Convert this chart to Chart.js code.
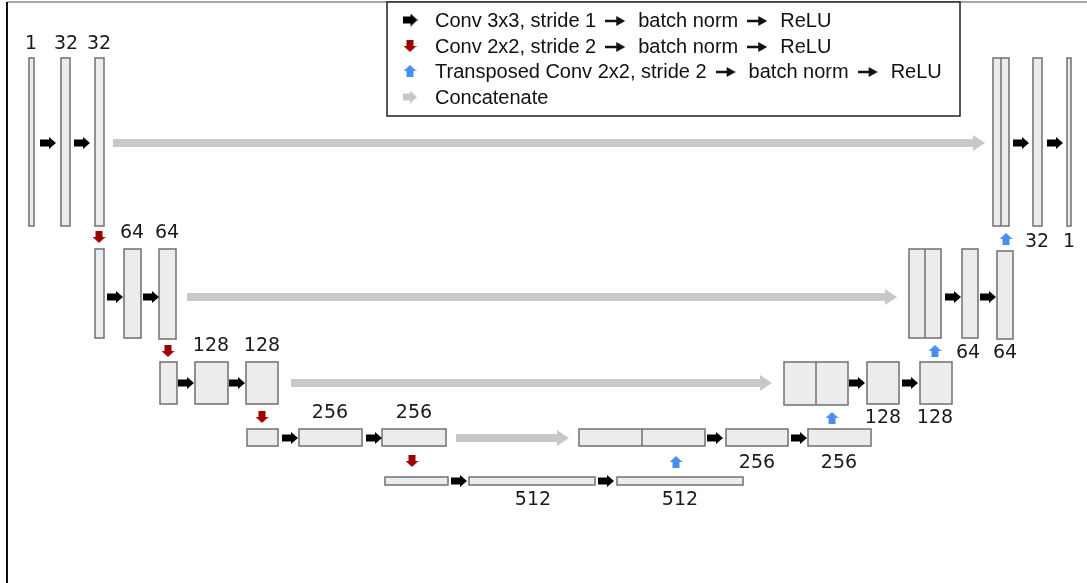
<!DOCTYPE html>
<html>
<head>
<meta charset="utf-8">
<script src="https://cdn.jsdelivr.net/npm/chart.js@4.4.1/dist/chart.umd.min.js"></script>
<style>
  html, body { margin: 0; padding: 0; background: #fff; }
  #wrap { width: 1087px; height: 583px; }
</style>
</head>
<body>
<div id="wrap"><canvas id="unet" width="1087" height="583"></canvas></div>
<script>
// Feature maps: [x0, x1, y0, y1] in diagram units
const featureMaps = [
  [29, 34, 58, 226], [61, 70, 58, 226], [95, 104, 58, 226],
  [1033, 1042, 58, 226], [1067, 1071, 58, 226],
  [95, 104, 249, 338], [124, 141, 249, 338], [159, 176, 249, 339],
  [962, 978, 249, 338], [997, 1013, 251, 339],
  [160, 177, 362, 404], [195, 228, 362, 404], [246, 278, 362, 404],
  [867, 899, 362, 404], [920, 952, 362, 404],
  [247, 278, 429, 446], [299, 362, 429, 446], [382, 446, 429, 446],
  [726, 788, 429, 446], [808, 871, 429, 446],
  [385, 448, 477, 485], [469, 595, 477, 485], [617, 743, 477, 485]
];
// Concatenated maps: [x0, x1, y0, y1, divider]
const concatMaps = [
  [993, 1009, 58, 226, 1001],
  [909, 941, 249, 338, 925],
  [784, 848, 362, 405, 816],
  [579, 705, 429, 446, 642]
];
// Channel counts
const channelText = ['1', '32', '32', '64', '64', '128', '128', '256', '256', '512', '512',
  '256', '256', '128', '128', '64', '64', '32', '1'];
const channelX = [31, 66, 99, 132, 167, 211, 262, 330, 414, 533, 680,
  757, 839, 883, 935, 968, 1005, 1037, 1069];
const channelY = [44, 44, 44, 233, 233, 346, 346, 413, 413, 500, 500,
  463, 463, 418, 418, 353, 353, 242, 242];
// Arrow positions
const convArrows = [
  [48, 143], [82, 143], [1021, 143], [1055, 143],
  [115, 297], [151, 297], [953, 297], [988, 297],
  [186, 383], [237, 383], [857, 383], [910, 383],
  [290, 438], [374, 438], [715, 438], [799, 438],
  [459, 481], [606, 481]
];
const downArrows = [[99, 237], [168, 351], [262, 417], [412, 461]];
const upArrows = [[1006, 239], [935, 351], [832, 418], [676, 462]];
// Concatenate arrows: [xStart, xEnd, y]
const concatArrows = [[113, 985, 143], [187, 897, 297], [291, 772, 383], [456, 569, 438]];
// Legend (each entry split at its arrows)
const legendText = [
  ['Conv 3x3, stride 1', 'batch norm', 'ReLU'],
  ['Conv 2x2, stride 2', 'batch norm', 'ReLU'],
  ['Transposed Conv 2x2, stride 2', 'batch norm', 'ReLU'],
  ['Concatenate']
];
const legendY = [20, 46, 71, 97];

const BLACK = '#000000', RED = '#9c0000', BLUE = '#4a8fef', GREY = '#c8c8c8';

// Build a small arrow image used as a point style
function arrowImage(dir, color, len, shaft, head, headLen) {
  const c = document.createElement('canvas');
  const w = (dir === 'right') ? len : head * 2;
  const h = (dir === 'right') ? head * 2 : len;
  c.width = w; c.height = h;
  const g = c.getContext('2d');
  g.fillStyle = color;
  g.translate(w / 2, h / 2);
  if (dir === 'down') g.rotate(Math.PI / 2);
  if (dir === 'up') g.rotate(-Math.PI / 2);
  const L = len / 2;
  g.beginPath();
  g.moveTo(-L, -shaft);
  g.lineTo(L - headLen, -shaft);
  g.lineTo(L - headLen, -head);
  g.lineTo(L, 0);
  g.lineTo(L - headLen, head);
  g.lineTo(L - headLen, shaft);
  g.lineTo(-L, shaft);
  g.closePath();
  g.fill();
  return c;
}
function headImage(color, len, head) {
  const c = document.createElement('canvas');
  c.width = len; c.height = head * 2;
  const g = c.getContext('2d');
  g.fillStyle = color;
  g.beginPath();
  g.moveTo(0, 0); g.lineTo(len, head); g.lineTo(0, head * 2);
  g.closePath(); g.fill();
  return c;
}

const convImg = arrowImage('right', BLACK, 16, 3.5, 6, 7);
const downImg = arrowImage('down', RED, 12, 3.5, 6.5, 6);
const upImg = arrowImage('up', BLUE, 12, 3.5, 6.5, 6);
const headImg = headImage(GREY, 12, 8);
const textArrow = arrowImage('right', '#111', 20, 1.2, 5, 9);

const pts = arr => arr.map(p => ({ x: p[0], y: p[1] }));

const datasets = [];
concatArrows.forEach(a => {
  datasets.push({
    type: 'line',
    data: [{ x: a[0], y: a[2] }, { x: a[1] - 11, y: a[2] }],
    borderColor: GREY, borderWidth: 8, borderCapStyle: 'butt',
    pointRadius: 0, fill: false
  });
});
datasets.push({ type: 'scatter', data: concatArrows.map(a => ({ x: a[1] - 6, y: a[2] })), pointStyle: headImg });
datasets.push({ type: 'scatter', data: pts(convArrows), pointStyle: convImg });
datasets.push({ type: 'scatter', data: pts(downArrows), pointStyle: downImg });
datasets.push({ type: 'scatter', data: pts(upArrows), pointStyle: upImg });

// Boxes, labels, legend and frame drawn with the chart's scales
const diagramPlugin = {
  id: 'diagram',
  beforeDatasetsDraw(chart) {
    const { ctx, scales: { x, y } } = chart;
    ctx.save();
    ctx.fillStyle = '#ffffff';
    ctx.fillRect(0, 0, chart.width, chart.height);
    // frame
    ctx.strokeStyle = '#8a8a8a';
    ctx.lineWidth = 1.5;
    ctx.beginPath();
    ctx.moveTo(x.getPixelForValue(7), y.getPixelForValue(2));
    ctx.lineTo(x.getPixelForValue(1087), y.getPixelForValue(2));
    ctx.stroke();
    ctx.strokeStyle = '#111';
    ctx.lineWidth = 2;
    ctx.beginPath();
    ctx.moveTo(x.getPixelForValue(7), y.getPixelForValue(2));
    ctx.lineTo(x.getPixelForValue(7), y.getPixelForValue(583));
    ctx.stroke();

    const box = (b) => {
      const px0 = x.getPixelForValue(b[0]), px1 = x.getPixelForValue(b[1]);
      const py0 = y.getPixelForValue(b[2]), py1 = y.getPixelForValue(b[3]);
      ctx.fillStyle = '#ececec';
      ctx.fillRect(px0, py0, px1 - px0, py1 - py0);
      ctx.strokeStyle = '#707070';
      ctx.lineWidth = 1.5;
      ctx.strokeRect(px0, py0, px1 - px0, py1 - py0);
    };
    featureMaps.forEach(box);
    concatMaps.forEach(b => {
      box(b);
      const dx = x.getPixelForValue(b[4]);
      ctx.beginPath();
      ctx.moveTo(dx, y.getPixelForValue(b[2]));
      ctx.lineTo(dx, y.getPixelForValue(b[3]));
      ctx.stroke();
    });

    // channel labels
    ctx.fillStyle = '#1a1a1a';
    ctx.font = '19px "DejaVu Sans"';
    ctx.textAlign = 'center';
    ctx.textBaseline = 'middle';
    channelText.forEach((t, i) => {
      ctx.fillText(t, x.getPixelForValue(channelX[i]), y.getPixelForValue(channelY[i]));
    });

    // legend box
    const lx0 = x.getPixelForValue(387), lx1 = x.getPixelForValue(960);
    const ly0 = y.getPixelForValue(2), ly1 = y.getPixelForValue(116);
    ctx.fillStyle = '#fff';
    ctx.fillRect(lx0, ly0, lx1 - lx0, ly1 - ly0);
    ctx.strokeStyle = '#222';
    ctx.lineWidth = 1.5;
    ctx.strokeRect(lx0, ly0, lx1 - lx0, ly1 - ly0);
    const icons = [arrowImage('right', BLACK, 15, 3.5, 6.5, 7), downImg, upImg,
      arrowImage('right', GREY, 14, 3.5, 6.5, 7)];
    ctx.font = '20px "Liberation Sans"';
    ctx.textAlign = 'left';
    ctx.fillStyle = '#111';
    legendText.forEach((parts, i) => {
      const cy = y.getPixelForValue(legendY[i]);
      const img = icons[i];
      ctx.drawImage(img, x.getPixelForValue(410) - img.width / 2, cy - img.height / 2);
      let tx = x.getPixelForValue(435);
      parts.forEach((p, j) => {
        ctx.fillText(p, tx, cy + 1);
        tx += ctx.measureText(p).width;
        if (j < parts.length - 1) {
          tx += 9;
          ctx.drawImage(textArrow, tx, cy - textArrow.height / 2 + 1);
          tx += textArrow.width + 13;
        }
      });
    });
    ctx.restore();
  }
};

new Chart(document.getElementById('unet'), {
  type: 'scatter',
  data: { datasets },
  options: {
    responsive: false,
    animation: false,
    devicePixelRatio: 1,
    layout: { padding: 0, autoPadding: false },
    plugins: { legend: { display: false }, tooltip: { enabled: false } },
    scales: {
      x: { type: 'linear', min: 0, max: 1087, display: false },
      y: { type: 'linear', min: 0, max: 583, reverse: true, display: false }
    }
  },
  plugins: [diagramPlugin]
});
</script>
</body>
</html>
